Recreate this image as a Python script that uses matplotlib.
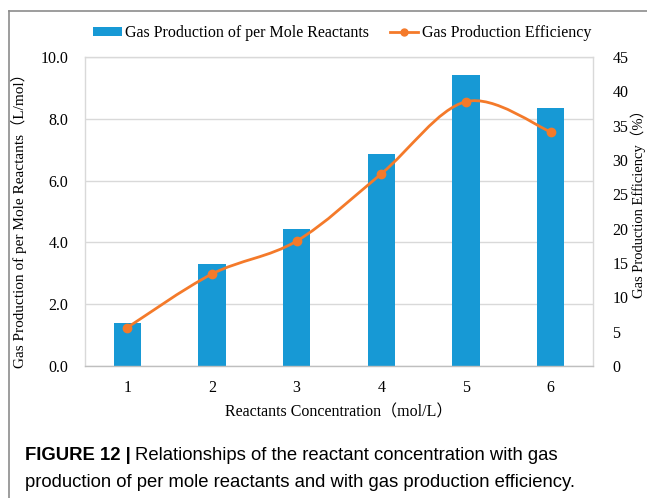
import matplotlib
matplotlib.use("Agg")
import matplotlib.pyplot as plt
from matplotlib.path import Path
from matplotlib.patches import PathPatch, Patch
from matplotlib.lines import Line2D
import numpy as np

# Data
concentration = [1, 2, 3, 4, 5, 6]
gas_per_mole = [1.38, 3.30, 4.44, 6.85, 9.43, 8.35]          # L/mol
efficiency = [5.6, 13.4, 18.2, 28.0, 38.5, 34.1]             # %
left_ticks = [0.0, 2.0, 4.0, 6.0, 8.0, 10.0]
right_ticks = [0, 5, 10, 15, 20, 25, 30, 35, 40, 45]

BLUE = "#1799D5"
ORANGE = "#F47A2A"
SERIF = ["Liberation Serif", "Noto Sans CJK SC"]
SANS = ["Liberation Sans", "DejaVu Sans"]
FS = 11.5

W, H = 647, 498
fig = plt.figure(figsize=(W / 100, H / 100), dpi=100)
fig.patch.set_facecolor("white")

# page frame (top and left rules)
fig.add_artist(Line2D([9 / W, 1.0], [1 - 11 / H, 1 - 11 / H], color="#8c8c8c", lw=1.2))
fig.add_artist(Line2D([9 / W, 9 / W], [1 - 11 / H, 0.0], color="#8c8c8c", lw=1.2))

ax = fig.add_axes([85 / W, 1 - 366 / H, (593 - 85) / W, (366 - 57) / H])
ax2 = ax.twinx()

x = np.arange(len(concentration))
ax.bar(x, gas_per_mole, width=0.32, color=BLUE, zorder=2)
ax.set_xlim(-0.5, len(concentration) - 0.5)
ax.set_ylim(0, 10)
ax.set_yticks(left_ticks)
ax.set_yticklabels([f"{v:.1f}" for v in left_ticks], family=SERIF, fontsize=FS)
ax.set_xticks(x)
ax.set_xticklabels([str(c) for c in concentration], family=SERIF, fontsize=FS)
ax.grid(axis="y", color="#d9d9d9", lw=1.0, zorder=0)
ax.set_axisbelow(True)
ax.tick_params(axis="x", length=0, pad=10)
ax.tick_params(axis="y", length=0, pad=12)
for side, sp in ax.spines.items():
    sp.set_color("#d9d9d9")
    sp.set_linewidth(1.0)
ax.spines["bottom"].set_color("#bfbfbf")

ax.set_xlabel("Reactants Concentration（mol/L）", family=SERIF, fontsize=FS, labelpad=6)
ax.set_ylabel("Gas Production of per Mole Reactants（L/mol）", family=SERIF, fontsize=11)
ax.yaxis.set_label_coords((27 - 85) / 508, (366 - 217) / 309)

ax2.set_ylim(0, 45)
ax2.set_yticks(right_ticks)
ax2.set_yticklabels([str(v) for v in right_ticks], family=SERIF, fontsize=FS)
ax2.tick_params(axis="y", length=0, pad=14)
for sp in ax2.spines.values():
    sp.set_visible(False)

# smoothed efficiency curve (cubic Bezier through the points)
pts = np.column_stack([x, efficiency]).astype(float)
ext = np.vstack([pts[0], pts, pts[-1]])
verts = [tuple(pts[0])]
codes = [Path.MOVETO]
for i in range(len(pts) - 1):
    p0, p1, p2, p3 = ext[i], ext[i + 1], ext[i + 2], ext[i + 3]
    c1 = p1 + (p2 - p0) / 6.0
    c2 = p2 - (p3 - p1) / 6.0
    verts += [tuple(c1), tuple(c2), tuple(p2)]
    codes += [Path.CURVE4] * 3
ax2.add_patch(PathPatch(Path(verts, codes), facecolor="none", edgecolor=ORANGE, lw=2.0, zorder=3))
ax2.plot(x, efficiency, linestyle="none", marker="o", markersize=6, color=ORANGE, zorder=4)

ax2.set_ylabel("Gas Production Efficiency（%）", family=SERIF, fontsize=10.5)
ax2.yaxis.set_label_coords((631 - 85) / 508, (366 - 200) / 309)

handles = [
    Patch(facecolor=BLUE, edgecolor="none"),
    Line2D([0], [0], color=ORANGE, lw=2.0, marker="o", markersize=5),
]
labels = ["Gas Production of per Mole Reactants", "Gas Production Efficiency"]
fig.legend(handles, labels, loc="center", bbox_to_anchor=(342 / W, 1 - 33 / H), ncol=2,
           frameon=False, prop={"family": SERIF, "size": FS}, handlelength=1.8,
           handleheight=0.5, handletextpad=0.2, columnspacing=1.3)

# caption
CFS = 13.3
bold = fig.text(25 / W, 1 - 456 / H, "FIGURE 12 |", family=SANS, fontsize=CFS,
                fontweight="bold", va="center", ha="left")
fig.canvas.draw()
bb = bold.get_window_extent()
fig.text((bb.x1 + 4) / W, 1 - 456 / H, "Relationships of the reactant concentration with gas",
         family=SANS, fontsize=CFS, va="center", ha="left")
fig.text(25 / W, 1 - 482 / H, "production of per mole reactants and with gas production efficiency.",
         family=SANS, fontsize=CFS, va="center", ha="left")

fig.savefig("out.png", dpi=100)
